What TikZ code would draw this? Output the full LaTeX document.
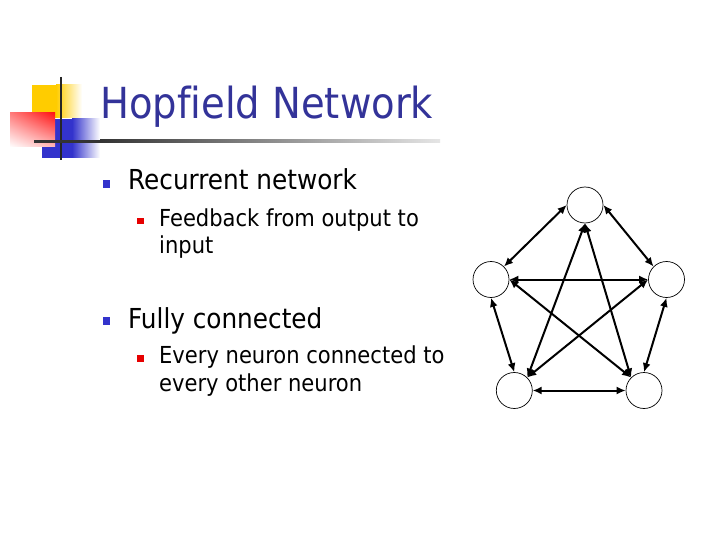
\documentclass[tikz,border=0pt]{standalone}
\usepackage{fontspec}
\setmainfont{DejaVu Sans Condensed}[Ligatures=NoCommon]
\usetikzlibrary{arrows.meta,shadings}
\definecolor{titleblue}{RGB}{51,51,153}
\definecolor{bulletblue}{RGB}{51,51,204}
\definecolor{bulletred}{RGB}{230,0,0}
\definecolor{logoyellow}{RGB}{255,204,0}
\definecolor{logoblue}{RGB}{51,51,204}
\definecolor{logored}{RGB}{255,20,20}
\tikzset{
  titletext/.style={anchor=base west, inner sep=0pt, text=titleblue, font=\fontsize{42.8}{50}\selectfont},
  lvlone/.style={anchor=base west, inner sep=0pt, font=\fontsize{27.5}{34}\selectfont},
  lvltwo/.style={anchor=base west, inner sep=0pt, font=\fontsize{23.4}{29}\selectfont},
  bulone/.style={fill=bulletblue, minimum size=7.5pt, inner sep=0pt},
  bultwo/.style={fill=bulletred, minimum size=6.5pt, inner sep=0pt},
  neuron/.style={circle, draw=black, line width=0.7pt, minimum size=36pt, inner sep=0pt, fill=white},
  link/.style={line width=2pt, <->, >={Latex[length=9pt,width=8pt]}}
}
\begin{document}
\begin{tikzpicture}[x=1pt,y=-1pt]
\useasboundingbox (0,0) rectangle (720,540);
\fill[white] (0,0) rectangle (720,540);
% logo
\fill[logoyellow] (32,85) rectangle (56,118);
\shade[left color=logoyellow,right color=white] (56,85) rectangle (82,118);
\fill[logoblue] (42,119) rectangle (72,158);
\shade[left color=logoblue,right color=white] (72,119) rectangle (100,158);
\shade[upper left=logored!55, upper right=logored, lower left=white, lower right=logored!30] (10,113) rectangle (55,147);
\draw[line width=2.5pt, black!85] (61,77) -- (61,160);
\fill[black!80] (34,140) rectangle (100,142.6);
\shade[left color=black!80,right color=black!10] (100,140) rectangle (440,142.6);
% title
\node[titletext] (title) at (100,119) {Hopfield Network};
% bullets
\node[bulone] (b1) at (106.5,184) {};
\node[lvlone] (t1) at (128,190) {Recurrent network};
\node[bultwo] (b2) at (140.5,221) {};
\node[lvltwo] (t2) at (159,226) {Feedback from output to};
\node[lvltwo] (t3) at (159,254) {input};
\node[bulone] (b3) at (106.5,321) {};
\node[lvlone] (t4) at (128,328) {Fully connected};
\node[bultwo] (b4) at (140.5,358.5) {};
\node[lvltwo] (t5) at (159,363) {Every neuron connected to};
\node[lvltwo] (t6) at (159,391) {every other neuron};
% network
\node[neuron] (nt) at (585,205) {};
\node[neuron] (nl) at (491,279.5) {};
\node[neuron] (nr) at (666.5,279.5) {};
\node[neuron] (nbl) at (514.3,390.5) {};
\node[neuron] (nbr) at (644,390.5) {};
\draw[link] (nt.180) -- (nl.45);
\draw[link] (nt.0) -- (nr.135);
\draw[link] (nt.270) -- (nbl.45);
\draw[link] (nt.270) -- (nbr.135);
\draw[link] (nl.0) -- (nr.180);
\draw[link] (nl.270) -- (nbl.90);
\draw[link] (nl.0) -- (nbr.135);
\draw[link] (nr.180) -- (nbl.45);
\draw[link] (nr.270) -- (nbr.90);
\draw[link] (nbl.0) -- (nbr.180);
\end{tikzpicture}
\end{document}
